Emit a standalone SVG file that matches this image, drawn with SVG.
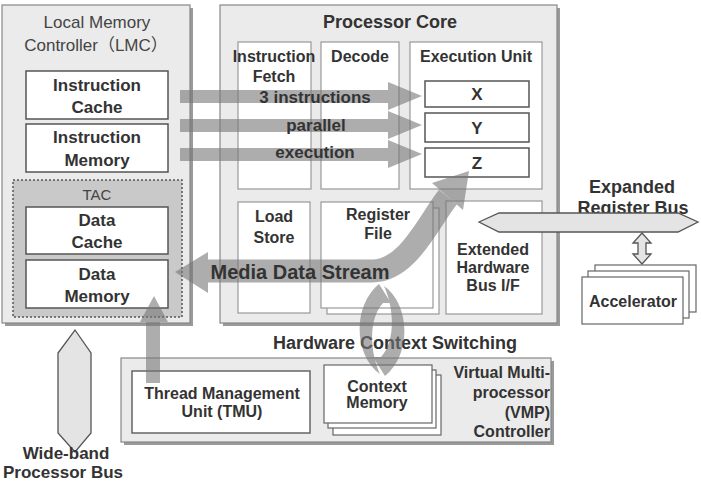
<svg xmlns="http://www.w3.org/2000/svg" width="701" height="481" viewBox="0 0 701 481">
<style>
.bg{fill:#ebebeb;stroke:#888;stroke-width:1.2}
.sh{fill:#9a9a9a}
.box{fill:#fff;stroke:#555;stroke-width:1.5}
.col{fill:#fff;stroke:#999;stroke-width:1.2}
.bus{fill:#e4e4e4;stroke:#555;stroke-width:1.3}
text{font-family:"Liberation Sans",Arial,sans-serif;fill:#333;text-anchor:middle;font-weight:bold}
.t16{font-size:16px}
.t17{font-size:17px}
.t18{font-size:18px}
.reg{font-weight:normal;fill:#444}
.flow{fill:#777}
</style>
<rect width="701" height="481" fill="#fff"/>

<!-- LMC -->
<g id="lmc">
<rect class="sh" x="5" y="8" width="188" height="318"/>
<rect class="bg" x="2" y="5" width="188" height="318"/>
<text class="t17 reg" x="97" y="28">Local Memory</text>
<text class="t17 reg" x="96" y="51" style="font-family:'Liberation Sans','Noto Sans CJK JP',sans-serif">Controller（LMC）</text>
</g>
<g id="icache">
<rect class="box" x="26" y="71" width="142" height="48"/>
<text class="t17" x="97" y="91">Instruction</text>
<text class="t17" x="97" y="113">Cache</text>
</g>
<g id="imem">
<rect class="box" x="26" y="124" width="142" height="48"/>
<text class="t17" x="97" y="143">Instruction</text>
<text class="t17" x="97" y="166">Memory</text>
</g>
<g id="tac">
<rect x="13" y="180" width="169" height="137" fill="#c9c9c9" stroke="#555" stroke-width="1.5" stroke-dasharray="2,2"/>
<text class="reg" x="97" y="200" style="font-size:15px">TAC</text>
</g>
<g id="dcache">
<rect class="box" x="26" y="207" width="142" height="47"/>
<text class="t17" x="97" y="226">Data</text>
<text class="t17" x="97" y="248">Cache</text>
</g>
<g id="dmem">
<rect class="box" x="26" y="260" width="142" height="48"/>
<text class="t17" x="97" y="280">Data</text>
<text class="t17" x="97" y="302">Memory</text>
</g>

<!-- Processor core -->
<g id="core">
<rect class="sh" x="223" y="8" width="337" height="318"/>
<rect class="bg" x="220" y="5" width="337" height="318"/>
<text class="t18" x="390" y="28">Processor Core</text>
</g>
<g id="ifetch">
<rect class="col" x="238" y="42" width="73" height="147"/>
<text class="t16" x="274" y="62">Instruction</text>
<text class="t16" x="274" y="82">Fetch</text>
</g>
<g id="decode">
<rect class="col" x="321" y="42" width="78" height="147"/>
<text class="t16" x="360" y="62">Decode</text>
</g>
<g id="exec">
<rect class="col" x="410" y="42" width="132" height="147"/>
<text class="t16" x="476" y="62">Execution Unit</text>
</g>
<g id="x"><rect class="box" x="425" y="81" width="104" height="26"/><text class="t17" x="477" y="100">X</text></g>
<g id="y"><rect class="box" x="425" y="113" width="104" height="29"/><text class="t17" x="477" y="134">Y</text></g>
<g id="z"><rect class="box" x="425" y="148" width="104" height="29"/><text class="t17" x="477" y="169">Z</text></g>
<g id="loadstore">
<rect class="col" x="238" y="202" width="72" height="111"/>
<text class="t16" x="274" y="222">Load</text>
<text class="t16" x="274" y="243">Store</text>
</g>
<g id="regfile">
<rect class="col" x="327" y="208" width="112" height="106"/>
<rect class="col" x="321" y="202" width="112" height="106"/>
<text class="t16" x="378" y="220">Register</text>
<text class="t16" x="378" y="239">File</text>
</g>
<g id="ehbif">
<rect class="col" x="446" y="201" width="96" height="113"/>
<text class="t16" x="493" y="255">Extended</text>
<text class="t16" x="493" y="273">Hardware</text>
<text class="t16" x="493" y="291">Bus I/F</text>
</g>

<!-- VMP -->
<g id="vmp">
<rect class="sh" x="124" y="361" width="430" height="84"/>
<rect class="bg" x="121" y="358" width="430" height="84"/>
<text class="t16" x="550" y="378" style="text-anchor:end">Virtual Multi-</text>
<text class="t16" x="550" y="398" style="text-anchor:end">processor</text>
<text class="t16" x="550" y="418" style="text-anchor:end">(VMP)</text>
<text class="t16" x="550" y="437" style="text-anchor:end">Controller</text>
</g>
<g id="tmu">
<rect class="box" x="132" y="371" width="178" height="62" style="stroke:#666"/>
<text class="t16" x="222" y="399">Thread Management</text>
<text class="t16" x="222" y="417">Unit (TMU)</text>
</g>
<g id="ctxmem">
<rect class="box" x="333" y="375" width="108" height="60" style="stroke:#666;stroke-width:1.2"/>
<rect class="box" x="328" y="370" width="108" height="58" style="stroke:#666;stroke-width:1.2"/>
<rect class="box" x="324" y="365" width="108" height="58" style="stroke:#666;stroke-width:1.2"/>
<text class="t16" x="377" y="392">Context</text>
<text class="t16" x="377" y="408">Memory</text>
</g>

<!-- Accelerator -->
<g id="accel">
<rect class="box" x="595" y="265" width="101" height="47" style="stroke:#666;stroke-width:1.2"/>
<rect class="box" x="588" y="271" width="101" height="47" style="stroke:#666;stroke-width:1.2"/>
<rect class="box" x="582" y="277" width="101" height="47" style="stroke:#666;stroke-width:1.2"/>
<text class="t16" x="633" y="307">Accelerator</text>
</g>

<!-- Buses -->
<g id="erbus">
<text class="t18" x="632" y="193">Expanded</text>
<text class="t18" x="633" y="214">Register Bus</text>
<polygon class="bus" points="479,222 499,213 678,213 698,222 678,232 499,232"/>
</g>
<g id="wbus">
<polygon class="bus" points="75,330 91,353 91,433 75,452 58,433 58,353"/>
<text class="t17" x="66" y="459">Wide-band</text>
<text class="t17" x="63" y="478">Processor Bus</text>
</g>
<text class="t18" x="395" y="349">Hardware Context Switching</text>

<!-- Connectors -->
<g id="connectors">
<polygon class="bus" points="642,233 651,243 646,243 646,254 651,254 642,264 633,254 638,254 638,243 633,243"/>
<g opacity="0.6">
<rect class="flow" x="180" y="90" width="210" height="13"/>
<polygon class="flow" points="388,82 422,96 388,110"/>
<rect class="flow" x="180" y="119" width="210" height="13"/>
<polygon class="flow" points="388,111 422,125 388,139"/>
<rect class="flow" x="180" y="148" width="210" height="13"/>
<polygon class="flow" points="388,140 422,154 388,168"/>
</g>
<g opacity="0.6">
<rect class="flow" x="146" y="320" width="14" height="63"/>
<polygon class="flow" points="154,296 140,322 168,322"/>
</g>
<g opacity="0.6">
<path d="M 206 271 L 372 271 C 408 271 428 222 448 197" fill="none" stroke="#777" stroke-width="23"/>
<polygon class="flow" points="208,252 175,272 208,293"/>
<polygon class="flow" points="432,183 469,171 463,210"/>
</g>
<g opacity="0.6">
<path class="flow" d="M 379 284 L 391 303 L 383 303 C 369 318 369 350 380 374 C 354 356 352 306 379 284 Z"/>
<path class="flow" d="M 385 376 L 373 357 L 381 357 C 395 342 395 310 384 286 C 410 304 412 354 385 376 Z"/>
</g>
</g>

<text x="300" y="279" style="font-size:20px">Media Data Stream</text>
<text class="t17" x="315" y="103">3 instructions</text>
<text class="t17" x="316" y="131">parallel</text>
<text class="t17" x="315" y="158">execution</text>
</svg>
